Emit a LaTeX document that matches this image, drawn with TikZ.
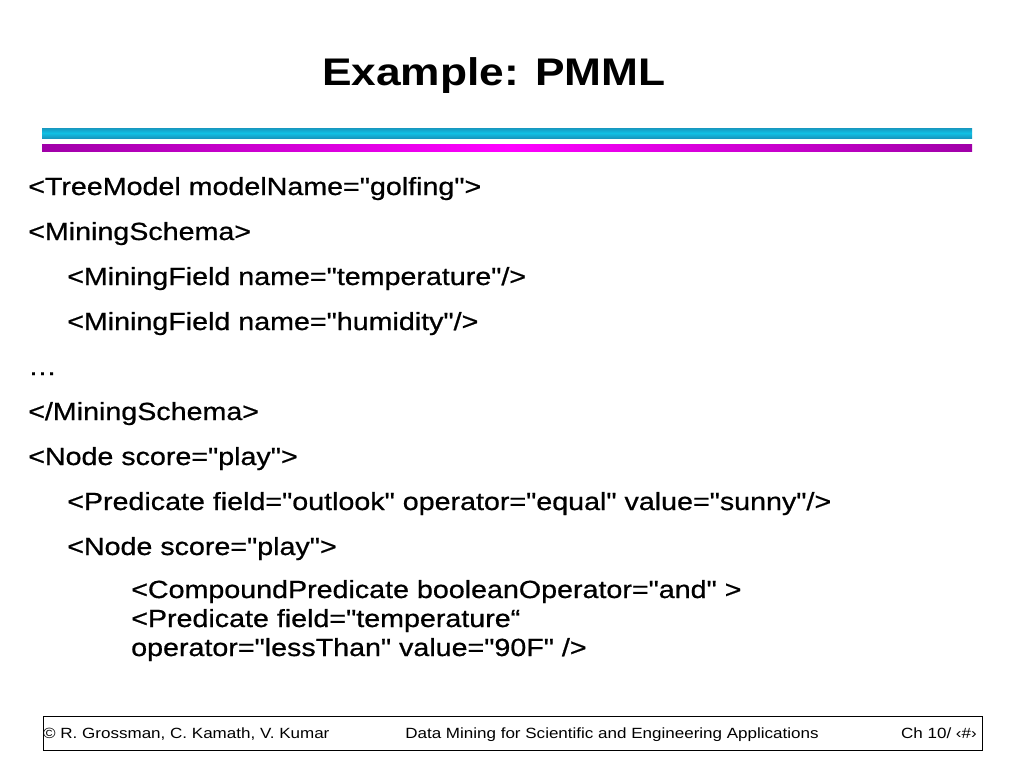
\documentclass[tikz,border=0pt]{standalone}
\usepackage{fontspec}
\setmainfont{Liberation Sans}[FakeStretch=1.15, Ligatures=TeXOff]
\newfontfamily\codefont{Liberation Sans}[FakeStretch=1.155, FakeBold=0.7, Ligatures=TeXOff]
\usetikzlibrary{positioning}
\tikzset{>=latex}
\definecolor{barcyan}{HTML}{10C0E4}
\definecolor{barcyandark}{HTML}{1898C0}
\definecolor{barmag}{HTML}{FF00FF}
\definecolor{barmagdark}{HTML}{A000A8}

\begin{document}
\begin{tikzpicture}[x=1pt, y=-1pt,
    code/.style={anchor=base west, inner sep=0pt, font=\codefont\fontsize{24.8}{26}\selectfont},
    foot/.style={inner sep=0pt, font=\fontsize{14.8}{16}\selectfont}]
      \useasboundingbox[fill=white] (0,0) rectangle (1024,768);
      \node[anchor=base, inner sep=0pt, font=\fontsize{38.5}{40}\selectfont\bfseries] (title) at (494,85) {Example: PMML};
      % the two bars under the title
      \shade[top color=barcyandark, bottom color=barcyandark, middle color=barcyan] (42,128) rectangle (972,138);
      \shade[left color=barmagdark, right color=barmagdark, middle color=barmag] (42,144) rectangle (972,151);
      \node[code] (t0) at (28,195) {<TreeModel modelName="golfing">};
      \node[code] (t1) at (28,240) {<MiningSchema>};
      \node[code] (t2) at (67,285) {<MiningField name="temperature"/>};
      \node[code] (t3) at (67,330) {<MiningField name="humidity"/>};
      \node[code] (t4) at (28,375) {…};
      \node[code] (t5) at (28,420) {</MiningSchema>};
      \node[code] (t6) at (28,465) {<Node score="play">};
      \node[code] (t7) at (67,510) {<Predicate field="outlook" operator="equal" value="sunny"/>};
      \node[code] (t8) at (67,555) {<Node score="play">};
      \node[code] (t9) at (131,598) {<CompoundPredicate booleanOperator="and" >};
      \node[code] (t10) at (131,627) {<Predicate field="temperature“};
      \node[code] (t11) at (131,656) {operator="lessThan" value="90F" />};
      % footer
      \node[draw, line width=1.2pt, anchor=north west, inner sep=0pt, minimum width=939pt, minimum height=34pt] (fbox) at (43,716) {};
      \node[foot, anchor=base west] (f0) at (43,738) {© R. Grossman, C. Kamath, V. Kumar};
      \node[foot, anchor=base] (f1) at (612,738) {Data Mining for Scientific and Engineering Applications};
      \node[foot, anchor=base east] (f2) at (977,738) {Ch 10/ ‹\#›};
    \end{tikzpicture}
\end{document}
